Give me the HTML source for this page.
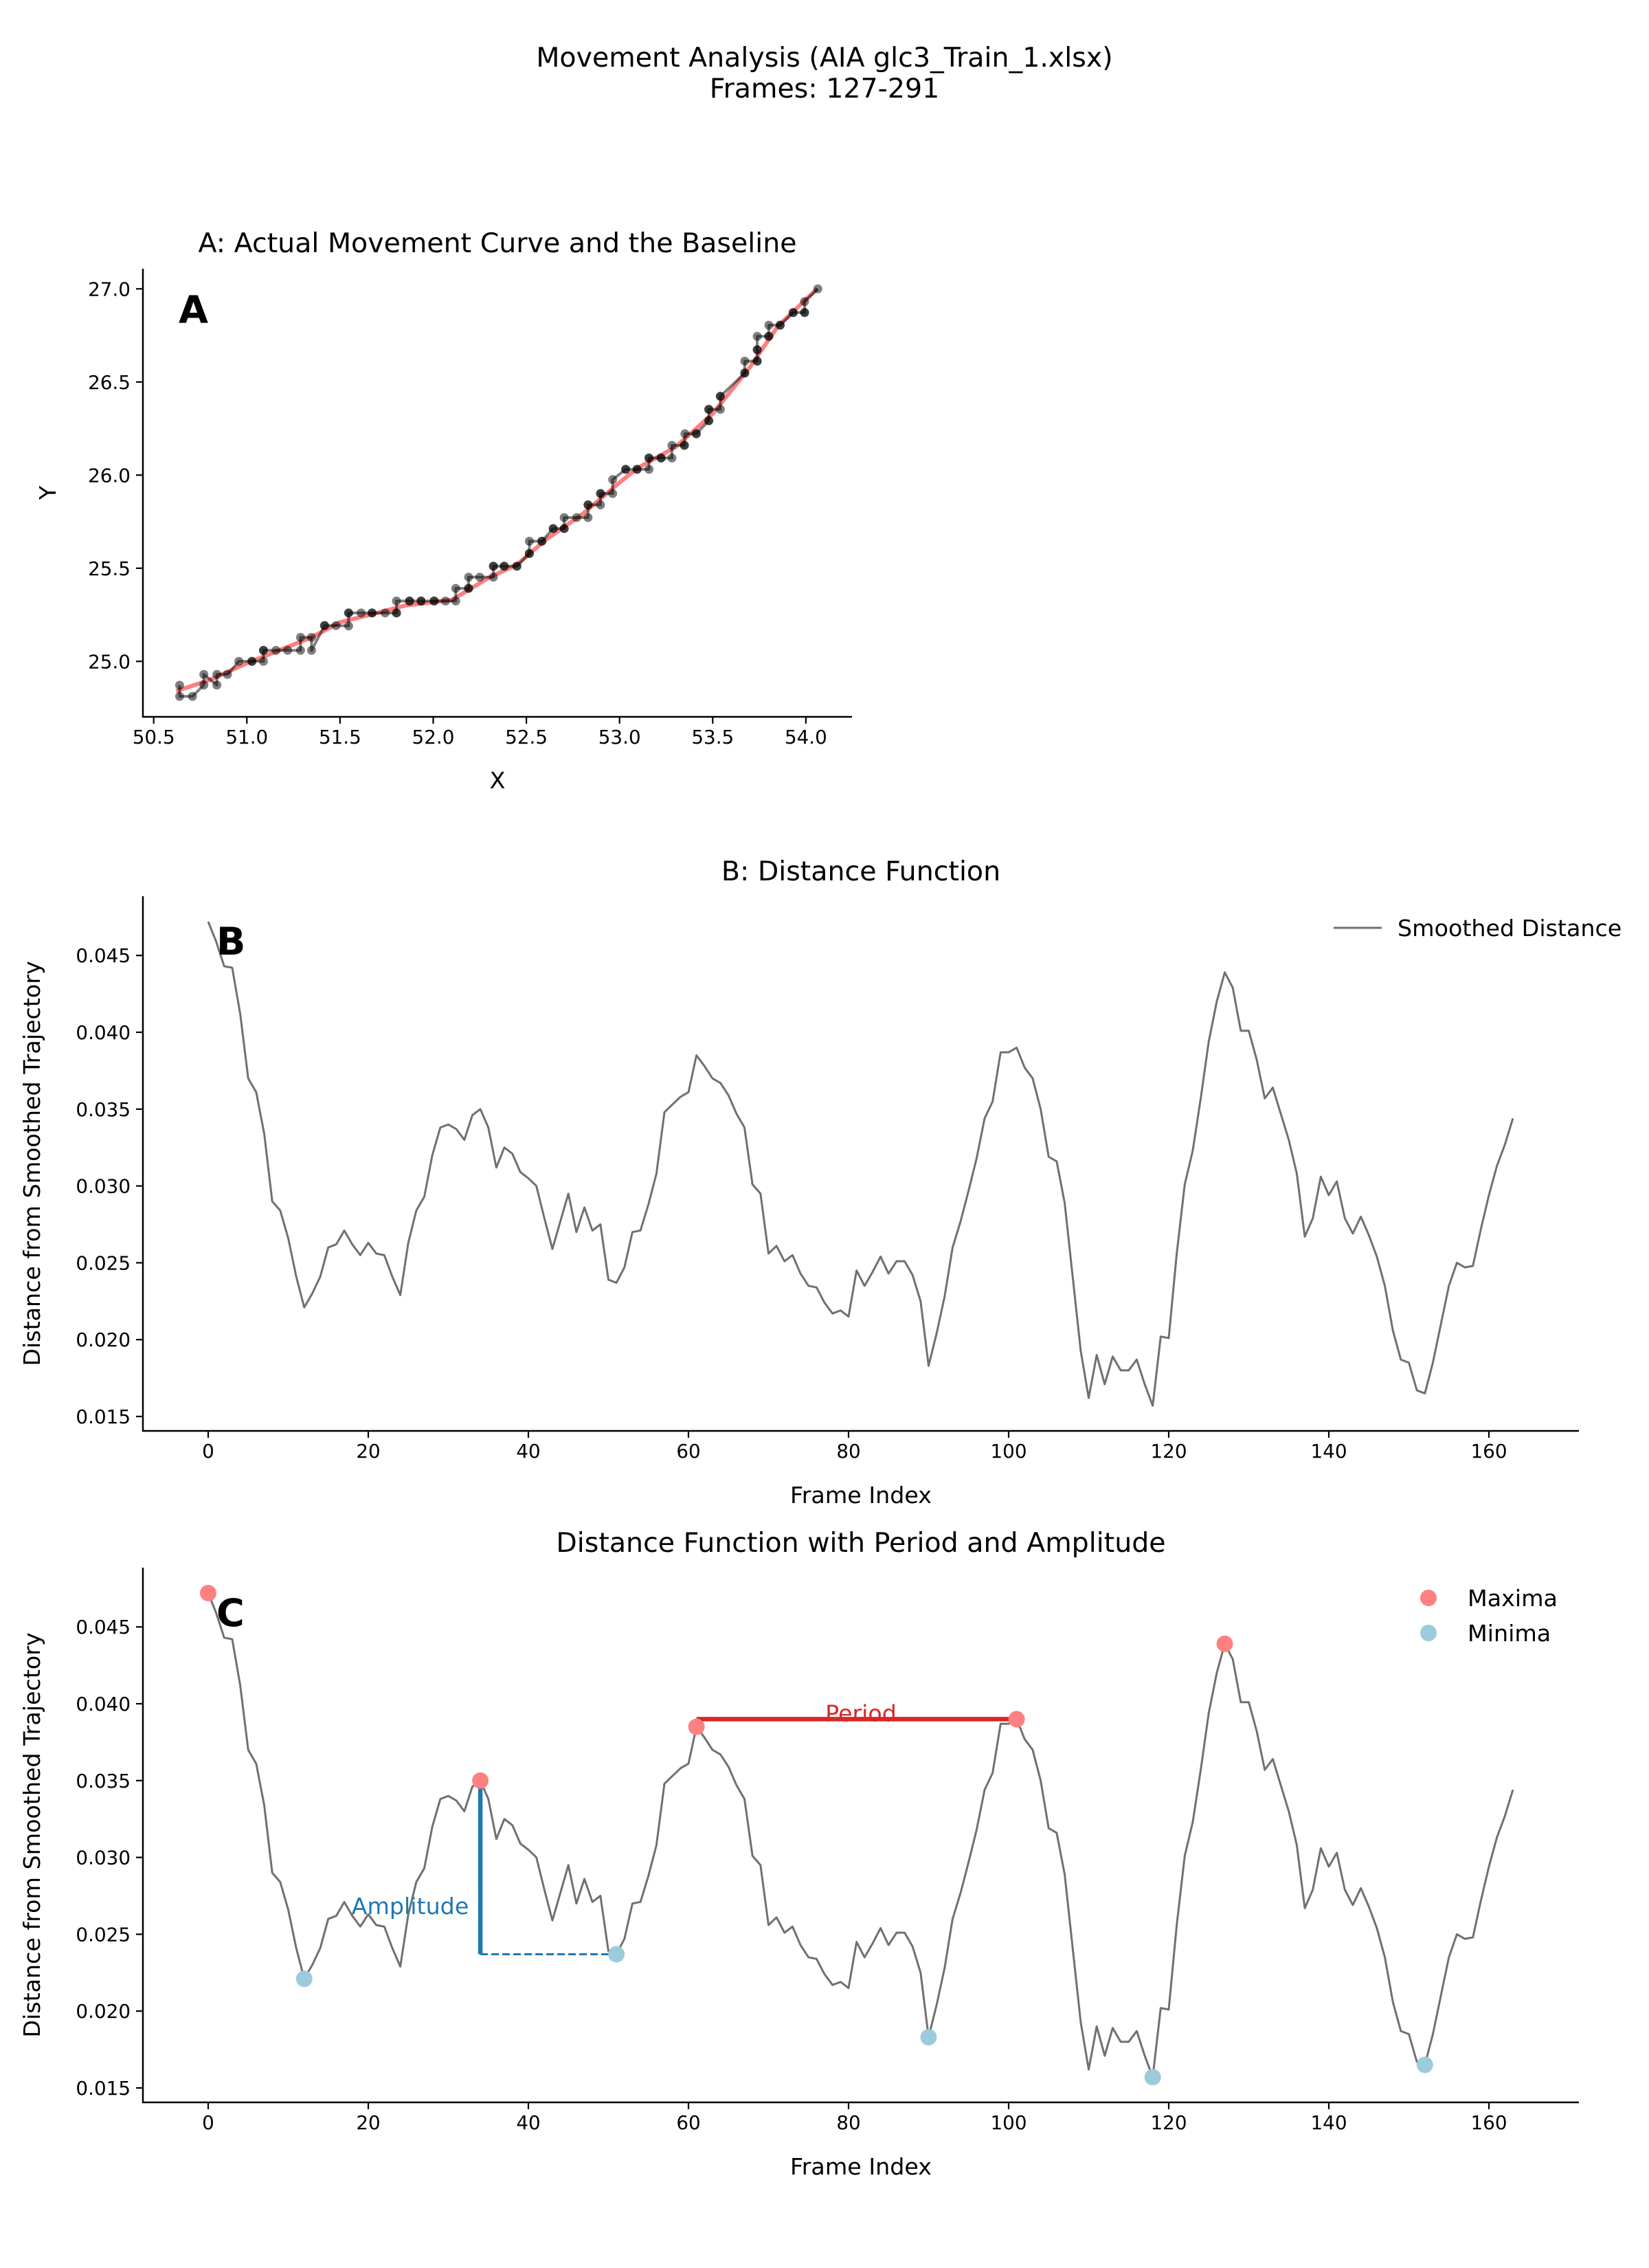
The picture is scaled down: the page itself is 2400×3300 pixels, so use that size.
<!DOCTYPE html>
<html><head><meta charset="utf-8"><style>
html,body{margin:0;padding:0;background:#fff;}
svg{display:block;font-family:"DejaVu Sans","Liberation Sans",sans-serif;}
</style></head><body>
<svg id="fig" width="2400" height="3300" viewBox="0 0 2400 3300" xmlns="http://www.w3.org/2000/svg">
<rect width="2400" height="3300" fill="#fff"/>
<text x="1200" y="97" font-size="39.5" text-anchor="middle">Movement Analysis (AIA glc3_Train_1.xlsx)</text>
<text x="1200" y="142" font-size="39.5" text-anchor="middle">Frames: 127-291</text>
<g id="pa"></g>
<g id="pb"></g>
<g id="pc"></g>
</svg>
<script>
// Panel A data
const ptsX = [50.639,50.639,50.708,50.769,50.769,50.839,50.839,50.896,50.957,51.027,51.027,51.089,51.089,51.089,51.156,51.219,51.288,51.288,51.347,51.347,51.417,51.417,51.478,51.546,51.546,51.546,51.613,51.672,51.672,51.742,51.803,51.803,51.803,51.873,51.873,51.935,51.935,52.005,52.005,52.066,52.121,52.121,52.19,52.19,52.19,52.25,52.323,52.323,52.323,52.381,52.381,52.449,52.449,52.516,52.516,52.516,52.583,52.583,52.644,52.644,52.703,52.703,52.703,52.77,52.831,52.831,52.831,52.898,52.898,52.898,52.963,52.963,53.033,53.033,53.094,53.094,53.158,53.158,53.158,53.223,53.223,53.281,53.281,53.348,53.348,53.351,53.412,53.412,53.479,53.479,53.479,53.479,53.541,53.541,53.541,53.672,53.672,53.672,53.739,53.739,53.739,53.739,53.739,53.801,53.801,53.801,53.862,53.862,53.932,53.932,53.993,53.993,53.993,54.064];
const ptsY = [24.872,24.812,24.812,24.873,24.93,24.873,24.93,24.93,25.0,25.0,25.0,25.0,25.059,25.059,25.059,25.059,25.059,25.129,25.129,25.059,25.192,25.192,25.192,25.19,25.26,25.26,25.26,25.26,25.26,25.26,25.26,25.26,25.324,25.324,25.324,25.324,25.324,25.324,25.324,25.324,25.324,25.392,25.392,25.392,25.452,25.452,25.452,25.511,25.511,25.511,25.511,25.511,25.511,25.579,25.579,25.645,25.645,25.645,25.713,25.713,25.713,25.713,25.772,25.772,25.772,25.84,25.84,25.84,25.901,25.901,25.901,25.976,26.031,26.031,26.031,26.031,26.031,26.092,26.092,26.092,26.092,26.092,26.16,26.16,26.16,26.222,26.222,26.222,26.292,26.292,26.353,26.353,26.353,26.423,26.423,26.548,26.548,26.612,26.612,26.612,26.673,26.673,26.745,26.745,26.745,26.805,26.805,26.805,26.873,26.873,26.873,26.873,26.932,27.0];
const baseX = [50.62,50.8,51.0,51.2,51.35,51.5,51.7,51.85,52.1,52.3,52.45,52.6,52.8,53.0,53.1,53.3,53.5,53.7,53.85,54.06];
const baseY = [24.84,24.9,24.99,25.07,25.13,25.21,25.26,25.3,25.33,25.45,25.52,25.65,25.79,25.96,26.04,26.15,26.33,26.58,26.8,27.0];
const aXTicks = [50.5,51.0,51.5,52.0,52.5,53.0,53.5,54.0];
const aYTicks = [25.0,25.5,26.0,26.5,27.0];
// Panel B/C data
const dist = [0.0472,0.0459,0.0443,0.0442,0.0412,0.0370,0.0361,0.0334,0.0290,0.0284,0.0266,0.0241,0.0221,0.0230,0.0241,0.0260,0.0262,0.0271,0.0262,0.0255,0.0263,0.0256,0.0255,0.0241,0.0229,0.0263,0.0284,0.0293,0.0320,0.0338,0.0340,0.0337,0.0330,0.0346,0.0350,0.0338,0.0312,0.0325,0.0321,0.0309,0.0305,0.0300,0.0279,0.0259,0.0277,0.0295,0.0270,0.0286,0.0271,0.0275,0.0239,0.0237,0.0247,0.0270,0.0271,0.0288,0.0308,0.0348,0.0353,0.0358,0.0361,0.0385,0.0378,0.0370,0.0367,0.0359,0.0347,0.0338,0.0301,0.0295,0.0256,0.0261,0.0251,0.0255,0.0243,0.0235,0.0234,0.0224,0.0217,0.0219,0.0215,0.0245,0.0235,0.0244,0.0254,0.0243,0.0251,0.0251,0.0242,0.0225,0.0183,0.0204,0.0228,0.0260,0.0277,0.0297,0.0318,0.0344,0.0355,0.0387,0.0387,0.0390,0.0377,0.0370,0.0350,0.0319,0.0316,0.0289,0.0241,0.0193,0.0162,0.0190,0.0171,0.0189,0.0180,0.0180,0.0187,0.0171,0.0157,0.0202,0.0201,0.0256,0.0301,0.0323,0.0357,0.0394,0.0420,0.0439,0.0429,0.0401,0.0401,0.0382,0.0357,0.0364,0.0347,0.0330,0.0308,0.0267,0.0279,0.0306,0.0294,0.0303,0.0279,0.0269,0.0280,0.0268,0.0254,0.0235,0.0206,0.0187,0.0185,0.0167,0.0165,0.0185,0.0210,0.0235,0.0250,0.0247,0.0248,0.0272,0.0294,0.0313,0.0327,0.0344];
const maxIdx = [0,34,61,101,127];
const minIdx = [12,51,90,118,152];
const bXTicks = [0,20,40,60,80,100,120,140,160];
const bYTicks = [0.015,0.020,0.025,0.030,0.035,0.040,0.045];
const ampIdx = [34,51];
const periodIdx = [61,101];

const NS='http://www.w3.org/2000/svg';
function mk(parent,tag,attrs,txt){const e=document.createElementNS(NS,tag);for(const k in attrs)e.setAttribute(k,attrs[k]);if(txt!==undefined)e.textContent=txt;parent.appendChild(e);return e;}

// ---------- Panel A ----------
(function(){
const g=document.getElementById('pa');
const L=208,R=1240,T=391,B=1043;
const xs=v=>223.7+(v-50.5)*271.2;
const ys=v=>962.3-(v-25.0)*271;
let t=mk(g,'text',{x:724,y:367,'font-size':39.5,'text-anchor':'middle'},'A: Actual Movement Curve and the Baseline');


let bp=baseX.map((x,i)=>xs(x)+','+ys(baseY[i])).join(' ');
let bl=mk(g,'polyline',{points:bp,fill:'none',stroke:'rgba(255,0,0,0.5)','stroke-width':6,'stroke-linejoin':'round'});


let ap=ptsX.map((x,i)=>xs(x)+','+ys(ptsY[i])).join(' ');
let al=mk(g,'polyline',{points:ap,fill:'none',stroke:'rgba(0,0,0,0.5)','stroke-width':4,'stroke-linejoin':'round'});


ptsX.forEach((x,i)=>{
  const c=mk(g,'circle',{cx:xs(x),cy:ys(ptsY[i]),r:6.5,fill:'rgba(0,0,0,0.5)'});
  
  
});
let s=mk(g,'path',{d:`M${L},${T}V${B}H${R}`,fill:'none',stroke:'#000','stroke-width':2.5});


aXTicks.forEach(v=>{
  mk(g,'line',{x1:xs(v),x2:xs(v),y1:B,y2:B+10,stroke:'#000','stroke-width':2.2});
  const tl=mk(g,'text',{x:xs(v),y:B+39,'font-size':27.8,'text-anchor':'middle'},v.toFixed(1));
  
  
});
aYTicks.forEach(v=>{
  mk(g,'line',{x1:L-10,x2:L,y1:ys(v),y2:ys(v),stroke:'#000','stroke-width':2.2});
  const tl=mk(g,'text',{x:L-18,y:ys(v)+10,'font-size':27.8,'text-anchor':'end'},v.toFixed(1));
  
  
});
t=mk(g,'text',{x:724,y:1147,'font-size':33.3,'text-anchor':'middle'},'X');


t=mk(g,'text',{x:0,y:0,'font-size':33.3,'text-anchor':'middle',transform:'translate(81,717) rotate(-90)'},'Y');


t=mk(g,'text',{x:260,y:470,'font-size':55.6,'font-weight':'bold'},'A');


})();

// ---------- Panels B and C ----------
function distPanel(gid,off,title,letter,annot){
const g=document.getElementById(gid);
const L=208,R=2298,T=1304+off,B=2082+off;
const xs=i=>303+i*(2167-303)/160;
const ys=v=>2061+off-(v-0.015)/0.005*111.8;
let t=mk(g,'text',{x:1253,y:1281+off,'font-size':39.5,'text-anchor':'middle'},title);


let p=dist.map((v,i)=>xs(i)+','+ys(v)).join(' ');
let ln=mk(g,'polyline',{points:p,fill:'none',stroke:'#707070','stroke-width':3,'stroke-linejoin':'round'});


let s=mk(g,'path',{d:`M${L},${T}V${B}H${R}`,fill:'none',stroke:'#000','stroke-width':2.5});


bXTicks.forEach(v=>{
  mk(g,'line',{x1:xs(v),x2:xs(v),y1:B,y2:B+10,stroke:'#000','stroke-width':2.2});
  const tl=mk(g,'text',{x:xs(v),y:B+39,'font-size':27.8,'text-anchor':'middle'},String(v));
  
  
});
bYTicks.forEach(v=>{
  mk(g,'line',{x1:L-10,x2:L,y1:ys(v),y2:ys(v),stroke:'#000','stroke-width':2.2});
  const tl=mk(g,'text',{x:L-18,y:ys(v)+10,'font-size':27.8,'text-anchor':'end'},v.toFixed(3));
  
  
});
t=mk(g,'text',{x:1253,y:2187+off,'font-size':33.3,'text-anchor':'middle'},'Frame Index');


t=mk(g,'text',{x:0,y:0,'font-size':33.3,'text-anchor':'middle',transform:`translate(58,${1693+off}) rotate(-90)`},'Distance from Smoothed Trajectory');


t=mk(g,'text',{x:315,y:1389+off,'font-size':55.6,'font-weight':'bold'},letter);


if(!annot){
  let lg=mk(g,'line',{x1:1941,x2:2011,y1:1350,y2:1350,stroke:'#707070','stroke-width':3});
  
  
  t=mk(g,'text',{x:2034,y:1362,'font-size':33.3},'Smoothed Distance');
  
  
  return;
}
// amplitude
const a0=ampIdx[0],a1=ampIdx[1];
let al=mk(g,'line',{x1:xs(a0),x2:xs(a0),y1:ys(dist[a0]),y2:ys(dist[a1]),stroke:'#1f77b4','stroke-width':6.5});


let ad=mk(g,'line',{x1:xs(a0),x2:xs(a1),y1:ys(dist[a1]),y2:ys(dist[a1]),stroke:'#1f77b4','stroke-width':3,'stroke-dasharray':'11,5'});


t=mk(g,'text',{x:597,y:ys(0.0265)+4,'font-size':33.3,'text-anchor':'middle',fill:'#1f77b4'},'Amplitude');


// period
const p0=periodIdx[0],p1=periodIdx[1];
let pl=mk(g,'line',{x1:xs(p0),x2:xs(p1),y1:ys(dist[p1]),y2:ys(dist[p1]),stroke:'#d62728','stroke-width':6.5});


t=mk(g,'text',{x:1253,y:ys(0.0393)+10,'font-size':33.3,'text-anchor':'middle',fill:'#d62728'},'Period');


maxIdx.forEach(i=>{
  const c=mk(g,'circle',{cx:xs(i),cy:ys(dist[i]),r:12,fill:'#ff8080'});
  
  
});
minIdx.forEach(i=>{
  const c=mk(g,'circle',{cx:xs(i),cy:ys(dist[i]),r:12,fill:'#9ccbdc'});
  
  
});
let m1=mk(g,'circle',{cx:2079,cy:2325,r:12,fill:'#ff8080'});


t=mk(g,'text',{x:2136,y:2337,'font-size':33.3},'Maxima');


let m2=mk(g,'circle',{cx:2079,cy:2376,r:12,fill:'#9ccbdc'});


t=mk(g,'text',{x:2136,y:2388,'font-size':33.3},'Minima');


}
distPanel('pb',0,'B: Distance Function','B',false);
distPanel('pc',977,'Distance Function with Period and Amplitude','C',true);
</script>
</body></html>
